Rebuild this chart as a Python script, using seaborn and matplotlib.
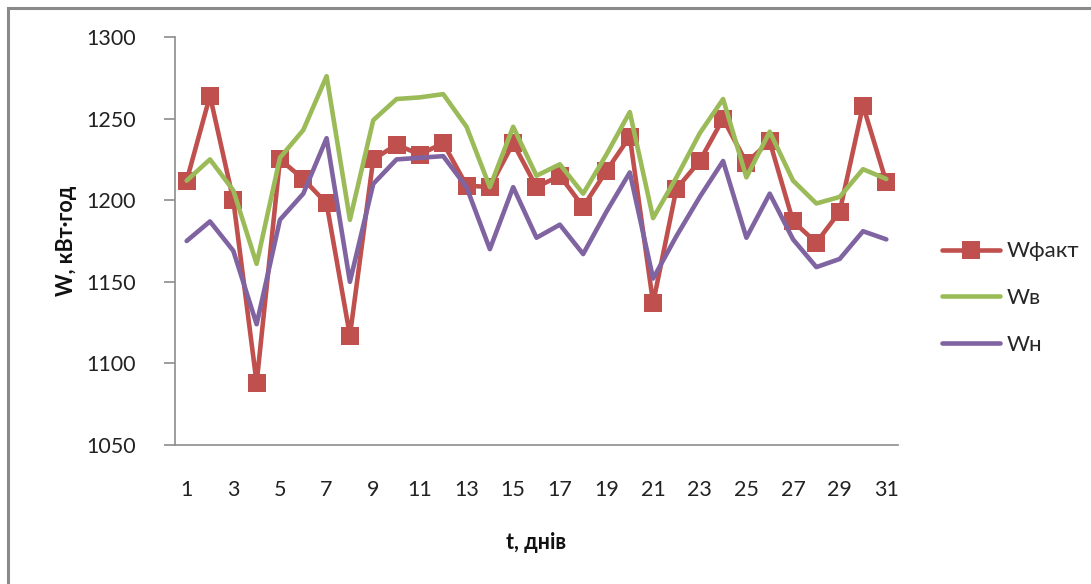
import matplotlib
matplotlib.use("Agg")
import matplotlib.pyplot as plt
import seaborn as sns
import pandas as pd
from matplotlib.patches import Rectangle
from matplotlib.lines import Line2D

days = list(range(1, 32))
w_fakt = [1212, 1264, 1200, 1088, 1225, 1213, 1198, 1117, 1225, 1234, 1228,
          1235, 1209, 1208, 1235, 1208, 1215, 1196, 1218, 1239, 1137, 1207,
          1224, 1250, 1223, 1236, 1187, 1174, 1193, 1258, 1211]
w_v = [1212, 1225, 1206, 1161, 1226, 1243, 1276, 1188, 1249, 1262, 1263,
       1265, 1245, 1208, 1245, 1215, 1222, 1204, 1228, 1254, 1189, 1214,
       1241, 1262, 1214, 1242, 1212, 1198, 1202, 1219, 1213]
w_n = [1175, 1187, 1169, 1124, 1188, 1204, 1238, 1150, 1210, 1225, 1226,
       1227, 1208, 1170, 1208, 1177, 1185, 1167, 1193, 1217, 1152, 1178,
       1202, 1224, 1177, 1204, 1176, 1159, 1164, 1181, 1176]
series_names = ["Wфакт", "Wв", "Wн"]
y_ticks = [1050, 1100, 1150, 1200, 1250, 1300]
x_ticks = list(range(1, 32, 2))

sns.set_theme(style="white")
plt.rcParams['font.family'] = ['Lato', 'Open Sans', 'DejaVu Sans']

df = pd.DataFrame({"t": days * 3,
                   "W": w_fakt + w_v + w_n,
                   "s": [series_names[0]] * 31 + [series_names[1]] * 31 + [series_names[2]] * 31})

colors = {"Wфакт": "#C0504D", "Wв": "#9BBB59", "Wн": "#8064A2"}
LW = 3.3
MS = 12.5

fig = plt.figure(figsize=(10.91, 5.84), dpi=100)
ax = fig.add_axes([175 / 1091, 1 - 445 / 584, (898 - 175) / 1091, (445 - 37) / 584])

sns.lineplot(data=df, x="t", y="W", hue="s", palette=colors, ax=ax,
             linewidth=LW, legend=False)
ax.lines[0].set_marker("s")
ax.lines[0].set_markersize(MS)
ax.lines[0].set_markeredgewidth(0)
ax.lines[0].set_zorder(2)
ax.lines[1].set_zorder(3)
ax.lines[2].set_zorder(4)

ax.set_xlim(0.5, 31.5)
ax.set_ylim(1050, 1300)
ax.set_yticks(y_ticks)
ax.set_xticks(x_ticks)
ax.set_xticklabels([str(x) for x in x_ticks])

for side in ["top", "right"]:
    ax.spines[side].set_visible(False)
for side in ["left", "bottom"]:
    ax.spines[side].set_color("#8c8c8c")
    ax.spines[side].set_linewidth(1.2)

ax.tick_params(axis="y", which="both", left=True, length=8, width=1.2,
               color="#8c8c8c", labelsize=15.5, labelcolor="#222222", pad=20)
ax.tick_params(axis="x", bottom=False, labelsize=15.5, labelcolor="#222222", pad=19)

ax.set_xlabel("t, днів", fontsize=15.5, fontweight="bold", color="#111111", labelpad=23)
ax.set_ylabel("W, кВт·год", fontsize=15.5, fontweight="bold", color="#111111", labelpad=7)

handles = [
    Line2D([], [], color=colors["Wфакт"], lw=LW, marker="s", markersize=MS, markeredgewidth=0),
    Line2D([], [], color=colors["Wв"], lw=LW),
    Line2D([], [], color=colors["Wн"], lw=LW),
]
fig.legend(handles, series_names, loc="center left",
           bbox_to_anchor=(922 / 1091, 1 - 298 / 584), frameon=False,
           fontsize=16, handlelength=2.6, handletextpad=0.3, labelspacing=1.2)

fig.patches.append(Rectangle((8 / 1091, -0.05), 1.2, 1 - 8 / 584 + 0.05,
                             transform=fig.transFigure, fill=False,
                             edgecolor="#8a8a8a", linewidth=2.2, zorder=0))

fig.savefig("out.png", dpi=100)
